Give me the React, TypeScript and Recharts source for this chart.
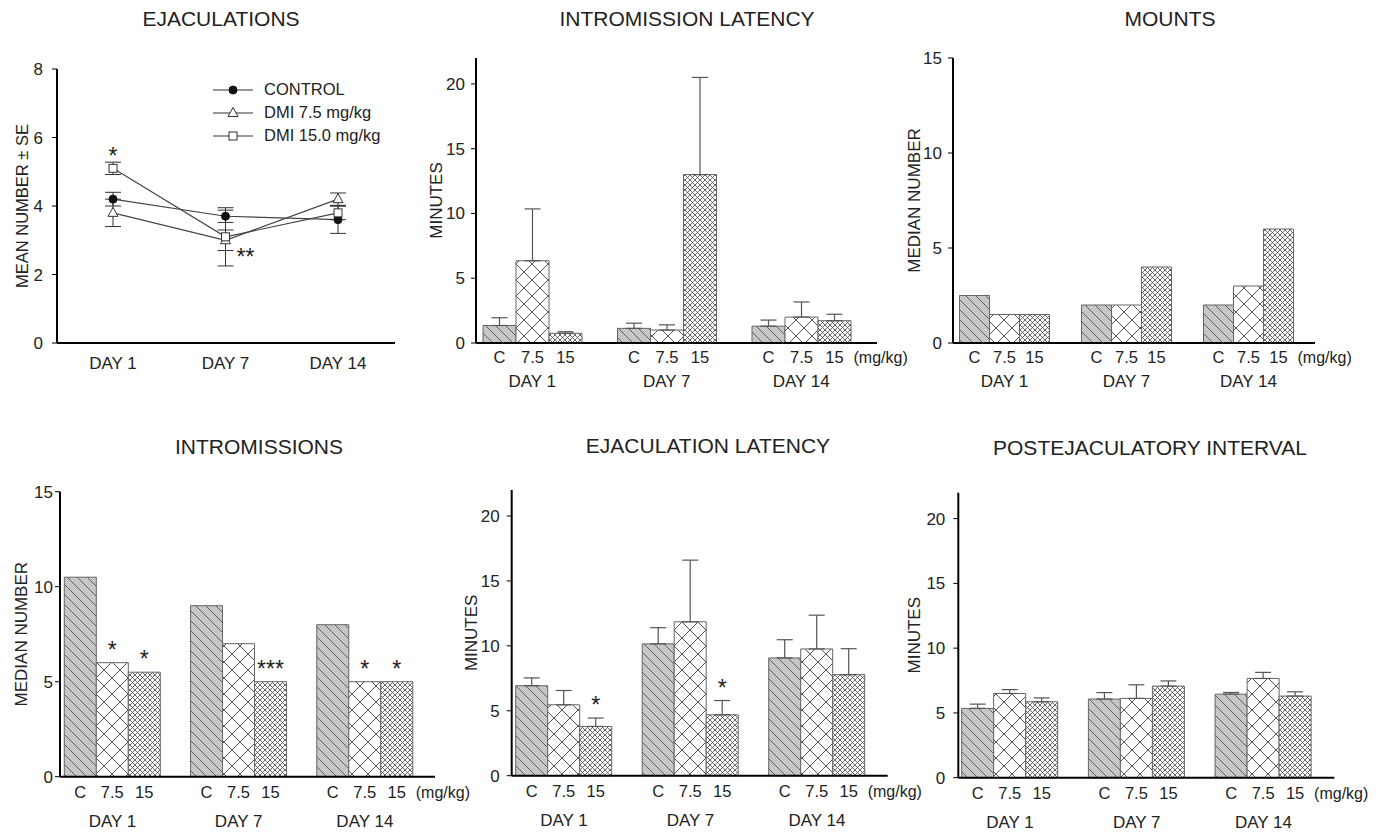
import React from 'react'
import { BarChart, Bar, LineChart, Line, XAxis, YAxis, ErrorBar, LabelList, Legend } from 'recharts'

const FONT = '"Liberation Sans", Arial, sans-serif'
const INK = '#222'

const days = ['DAY 1', 'DAY 7', 'DAY 14']
const doses = ['C', '7.5', '15']
const lineNames = ['CONTROL', 'DMI 7.5 mg/kg', 'DMI 15.0 mg/kg']

// ejaculations, mean ± SE
const ejacControl = [4.2, 3.7, 3.6]
const ejacControlSe = [0.2, 0.18, 0.4]
const ejacLow = [3.8, 3.0, 4.2]
const ejacLowSe = [0.4, 0.3, 0.18]
const ejacHigh = [5.1, 3.1, 3.8]
const ejacHighSe = [0.18, 0.85, 0.2]
const ejacLowStars = ['', '**', '']
const ejacHighStars = ['*', '', '']

// intromission latency, minutes
const ilC = [1.35, 1.13, 1.3]
const ilCSe = [0.6, 0.4, 0.47]
const ilLow = [6.35, 1.0, 2.0]
const ilLowSe = [4.0, 0.4, 1.17]
const ilHigh = [0.75, 13.0, 1.72]
const ilHighSe = [0.12, 7.5, 0.5]

// mounts, median
const mC = [2.5, 2, 2]
const mLow = [1.5, 2, 3]
const mHigh = [1.5, 4, 6]

// intromissions, median
const inC = [10.5, 9, 8]
const inLow = [6, 7, 5]
const inHigh = [5.5, 5, 5]
const inLowStars = ['*', '', '*']
const inHighStars = ['*', '***', '*']

// ejaculation latency, minutes
const elC = [6.93, 10.15, 9.07]
const elCSe = [0.6, 1.25, 1.4]
const elLow = [5.46, 11.85, 9.76]
const elLowSe = [1.1, 4.75, 2.6]
const elHigh = [3.79, 4.69, 7.78]
const elHighSe = [0.65, 1.1, 2.0]
const elHighStars = ['*', '*', '']

// postejaculatory interval, minutes
const peC = [5.35, 6.07, 6.45]
const peCSe = [0.33, 0.5, 0.13]
const peLow = [6.5, 6.12, 7.66]
const peLowSe = [0.3, 1.05, 0.47]
const peHigh = [5.86, 7.07, 6.3]
const peHighSe = [0.3, 0.4, 0.33]

const vbOf = (p: any) => (p.viewBox && typeof p.viewBox.x === 'number' ? p.viewBox : p)

function marker(i: number, cx: number, cy: number) {
  if (i === 0) return <circle cx={cx} cy={cy} r={4} fill="#111" stroke="#111" />
  if (i === 1)
    return <polygon points={`${cx},${cy - 5.5} ${cx - 5},${cy + 3.5} ${cx + 5},${cy + 3.5}`} fill="#fff" stroke="#333" strokeWidth={1} />
  return <rect x={cx - 4} y={cy - 4} width={8} height={8} fill="#fff" stroke="#333" strokeWidth={1} />
}

const renderLegend = (p: any) => {
  const items = [...(p.payload || [])].sort((a: any, b: any) => lineNames.indexOf(a.value) - lineNames.indexOf(b.value))
  return (
    <div style={{ fontFamily: FONT, fontSize: 16.5, color: INK }}>
      {items.map((e: any) => {
        const i = lineNames.indexOf(e.value)
        return (
          <div key={e.value} style={{ display: 'flex', alignItems: 'center', height: 23 }}>
            <svg width={40} height={14} style={{ marginRight: 11 }}>
              <line x1={0} y1={7} x2={40} y2={7} stroke="#333" strokeWidth={1.2} />
              {marker(i, 20, 7)}
            </svg>
            <span>{e.value}</span>
          </div>
        )
      })}
    </div>
  )
}

function Title({ x, y, text }: { x: number; y: number; text: string }) {
  return (
    <div style={{ position: 'absolute', left: x, top: y, transform: 'translate(-50%, -50%)', whiteSpace: 'nowrap', fontSize: 21, color: INK, fontFamily: FONT }}>
      {text}
    </div>
  )
}

const axisTick = { fill: INK, fontSize: 17, fontFamily: FONT }
const axisLine = { stroke: '#000', strokeWidth: 2 }
const yLabelStyle = { textAnchor: 'middle', fill: INK, fontSize: 17, fontFamily: FONT }

function EjacPanel() {
  const data = days.map((d, i) => ({
    day: d,
    control: ejacControl[i], controlErr: ejacControlSe[i],
    low: ejacLow[i], lowErr: ejacLowSe[i], lowStar: ejacLowStars[i],
    high: ejacHigh[i], highErr: ejacHighSe[i], highStar: ejacHighStars[i],
  }))
  const starAbove = (p: any) => {
    const s = ejacHighStars[p.index]
    if (!s) return null
    const vb = vbOf(p)
    return <text key={`ha${p.index}`} x={vb.x} y={vb.y - 4} textAnchor="middle" fontSize={23} fill={INK} fontFamily={FONT}>{s}</text>
  }
  const starSide = (p: any) => {
    const s = ejacLowStars[p.index]
    if (!s) return null
    const vb = vbOf(p)
    return <text key={`ls${p.index}`} x={vb.x + 20} y={vb.y + 25} textAnchor="middle" fontSize={23} fill={INK} fontFamily={FONT}>{s}</text>
  }
  const keys = ['control', 'low', 'high']
  return (
    <div style={{ position: 'absolute', left: 0, top: 40 }}>
      <LineChart width={420} height={350} data={data} margin={{ top: 29, right: 25, bottom: 17, left: 12 }}>
        <XAxis dataKey="day" padding={{ left: 56, right: 57 }} axisLine={axisLine} tickLine={false} tickSize={0} tickMargin={14} tick={axisTick} height={30} />
        <YAxis
          domain={[0, 8]}
          ticks={[0, 2, 4, 6, 8]}
          width={45}
          axisLine={axisLine}
          tickLine={{ stroke: '#000' }}
          tickSize={5}
          tickMargin={9}
          tick={axisTick}
          label={{ value: 'MEAN NUMBER ± SE', angle: -90, position: 'insideLeft', offset: 10, style: { ...yLabelStyle, fontSize: 16.5 } }}
        />
        <Legend layout="vertical" align="center" verticalAlign="middle" itemSorter={null as any} content={renderLegend} wrapperStyle={{ left: 213, top: 38, width: 'auto' }} />
        {keys.map((k, i) => (
          <Line
            key={k}
            dataKey={k}
            name={lineNames[i]}
            stroke="#444"
            strokeWidth={1.2}
            isAnimationActive={false}
            dot={(p: any) => <g key={`${k}${p.index}`}>{marker(i, p.cx, p.cy)}</g>}
            activeDot={false}
          >
            <ErrorBar dataKey={`${k}Err`} width={8} stroke="#333" strokeWidth={1} direction="y" />
            {k === 'high' && <LabelList dataKey="highStar" content={starAbove} />}
            {k === 'low' && <LabelList dataKey="lowStar" content={starSide} />}
          </Line>
        ))}
      </LineChart>
    </div>
  )
}

type Series = { values: number[]; se?: number[]; stars?: string[] }
type Frame = { L: number; T: number; W: number; H: number; x0: number; x1: number; y0: number; y1: number }

function BarPanel(props: {
  id: string
  f: Frame
  yLabel: string
  labelOffset: number
  yMax: number
  yTicks: number[]
  barSize: number
  padL: number
  padR: number
  yTickMargin: number
  dayMargin: number
  doseGap: number
  series: Series[]
}) {
  const { id, f, series } = props
  const yW = 50
  const xH = 55
  const keys = ['c', 'low', 'high']
  const fills = [`url(#${id}-c)`, `url(#${id}-l)`, `url(#${id}-h)`]
  const data = days.map((d, i) => {
    const row: any = { day: d }
    series.forEach((s, si) => {
      row[keys[si]] = s.values[i]
      if (s.se) row[`${keys[si]}Err`] = [0, s.se[i]]
    })
    return row
  })
  const margin = { left: f.x0 - f.L - yW, right: f.L + f.W - f.x1, top: f.y0 - f.T, bottom: Math.max(0, f.T + f.H - f.y1 - xH) }

  const doseLabel = (si: number) => (p: any) => {
    const vb = vbOf(p)
    const cx = vb.x + vb.width / 2
    const by = vb.y + vb.height + props.doseGap
    const last = si === 2 && p.index === days.length - 1
    return (
      <g key={`d${si}-${p.index}`}>
        <text x={cx} y={by} textAnchor="middle" fontSize={16.5} fill={INK} fontFamily={FONT}>{doses[si]}</text>
        {last && <text x={cx + 19} y={by} fontSize={16} fill={INK} fontFamily={FONT}>(mg/kg)</text>}
      </g>
    )
  }
  const starLabel = (s: Series, si: number) => (p: any) => {
    const st = s.stars ? s.stars[p.index] : ''
    if (!st) return null
    const vb = vbOf(p)
    const unit = vb.height / s.values[p.index]
    const top = vb.y - (s.se ? s.se[p.index] * unit : 0)
    return (
      <text key={`s${si}-${p.index}`} x={vb.x + vb.width / 2} y={top - 5} textAnchor="middle" fontSize={23} fill={INK} fontFamily={FONT}>
        {st}
      </text>
    )
  }

  return (
    <div style={{ position: 'absolute', left: f.L, top: f.T }}>
      <BarChart width={f.W} height={f.H} data={data} margin={margin} barGap={0} barSize={props.barSize}>
        <defs>
          <pattern id={`${id}-c`} patternUnits="userSpaceOnUse" width={10} height={10}>
            <rect width={10} height={10} fill="#c6c6c6" />
            <path d="M-2,-2 L12,12 M-2,8 L2,12 M8,-2 L12,2" stroke="#555" strokeWidth={0.9} />
          </pattern>
          <pattern id={`${id}-l`} patternUnits="userSpaceOnUse" width={16} height={16}>
            <rect width={16} height={16} fill="#fff" />
            <path d="M0,0 L16,16 M16,0 L0,16" stroke="#555" strokeWidth={1} />
          </pattern>
          <pattern id={`${id}-h`} patternUnits="userSpaceOnUse" width={5} height={5}>
            <rect width={5} height={5} fill="#fff" />
            <path d="M0,0 L5,5 M5,0 L0,5" stroke="#444" strokeWidth={0.8} />
          </pattern>
        </defs>
        <XAxis
          dataKey="day"
          padding={{ left: props.padL, right: props.padR }}
          axisLine={axisLine}
          tickLine={false}
          tickSize={0}
          tickMargin={props.dayMargin}
          tick={axisTick}
          height={xH}
        />
        <YAxis
          domain={[0, props.yMax]}
          ticks={props.yTicks}
          width={yW}
          axisLine={axisLine}
          tickLine={{ stroke: '#000' }}
          tickSize={5}
          tickMargin={props.yTickMargin}
          tick={axisTick}
          label={{ value: props.yLabel, angle: -90, position: 'insideLeft', offset: props.labelOffset, style: yLabelStyle }}
        />
        {series.map((s, si) => (
          <Bar key={keys[si]} dataKey={keys[si]} fill={fills[si]} stroke="#666" strokeWidth={1} isAnimationActive={false}>
            {s.se && <ErrorBar dataKey={`${keys[si]}Err`} width={8} stroke="#555" strokeWidth={1.2} direction="y" />}
            <LabelList dataKey={keys[si]} content={doseLabel(si)} />
            {s.stars && <LabelList dataKey={keys[si]} content={starLabel(s, si)} />}
          </Bar>
        ))}
      </BarChart>
    </div>
  )
}

export default function App() {
  return (
    <div style={{ position: 'absolute', left: 0, top: 0, width: 1389, height: 833, background: '#fff', fontFamily: FONT, overflow: 'hidden' }}>
      <Title x={221} y={19} text="EJACULATIONS" />
      <Title x={687} y={19} text="INTROMISSION LATENCY" />
      <Title x={1170} y={19} text="MOUNTS" />
      <Title x={259} y={447} text="INTROMISSIONS" />
      <Title x={708} y={446} text="EJACULATION LATENCY" />
      <Title x={1150} y={448} text="POSTEJACULATORY INTERVAL" />

      <EjacPanel />

      <BarPanel
        id="il"
        f={{ L: 420, T: 40, W: 490, H: 360, x0: 476, x1: 877, y0: 58, y1: 343 }}
        yLabel="MINUTES"
        labelOffset={10}
        yMax={22}
        yTicks={[0, 5, 10, 15, 20]}
        barSize={33}
        padL={-11}
        padR={8.5}
        yTickMargin={6}
        dayMargin={32}
        doseGap={20}
        series={[
          { values: ilC, se: ilCSe },
          { values: ilLow, se: ilLowSe },
          { values: ilHigh, se: ilHighSe },
        ]}
      />
      <BarPanel
        id="mo"
        f={{ L: 900, T: 40, W: 489, H: 360, x0: 953, x1: 1315, y0: 58, y1: 343 }}
        yLabel="MEDIAN NUMBER"
        labelOffset={11}
        yMax={15}
        yTicks={[0, 5, 10, 15]}
        barSize={30}
        padL={-9.5}
        padR={5.5}
        yTickMargin={6}
        dayMargin={32}
        doseGap={20}
        series={[{ values: mC }, { values: mLow }, { values: mHigh }]}
      />
      <BarPanel
        id="in"
        f={{ L: 0, T: 470, W: 480, H: 363, x0: 60, x1: 435, y0: 491.7, y1: 776.7 }}
        yLabel="MEDIAN NUMBER"
        labelOffset={11}
        yMax={15}
        yTicks={[0, 5, 10, 15]}
        barSize={32}
        padL={-10.7}
        padR={7}
        yTickMargin={2}
        dayMargin={38}
        doseGap={21}
        series={[
          { values: inC },
          { values: inLow, stars: inLowStars },
          { values: inHigh, stars: inHighStars },
        ]}
      />
      <BarPanel
        id="el"
        f={{ L: 450, T: 470, W: 480, H: 363, x0: 511.7, x1: 887.7, y0: 490, y1: 775.7 }}
        yLabel="MINUTES"
        labelOffset={9.3}
        yMax={22}
        yTicks={[0, 5, 10, 15, 20]}
        barSize={32}
        padL={-11}
        padR={7.5}
        yTickMargin={7}
        dayMargin={38}
        doseGap={21}
        series={[
          { values: elC, se: elCSe },
          { values: elLow, se: elLowSe },
          { values: elHigh, se: elHighSe, stars: elHighStars },
        ]}
      />
      <BarPanel
        id="pe"
        f={{ L: 900, T: 470, W: 489, H: 363, x0: 958.3, x1: 1334.3, y0: 492.7, y1: 777.7 }}
        yLabel="MINUTES"
        labelOffset={5.7}
        yMax={22}
        yTicks={[0, 5, 10, 15, 20]}
        barSize={32}
        padL={-11.6}
        padR={7.5}
        yTickMargin={8}
        dayMargin={38}
        doseGap={21}
        series={[
          { values: peC, se: peCSe },
          { values: peLow, se: peLowSe },
          { values: peHigh, se: peHighSe },
        ]}
      />
    </div>
  )
}
